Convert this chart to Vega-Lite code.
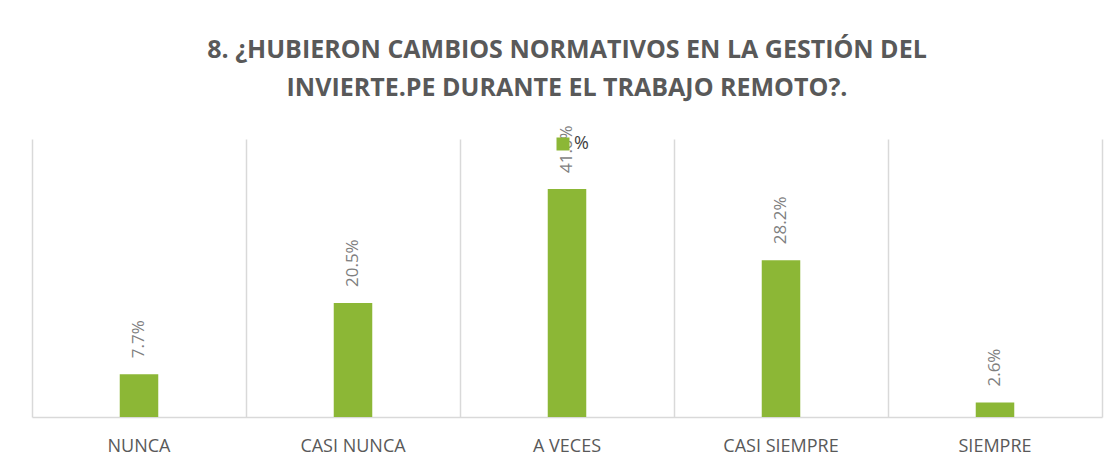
{
  "$schema": "https://vega.github.io/schema/vega-lite/v6.json",
  "autosize": {"type": "none"},
  "width": 1070,
  "height": 278,
  "padding": {"left": 32, "top": 139, "right": 14, "bottom": 38},
  "background": "white",
  "config": {
    "view": {"stroke": null},
    "font": "Open Sans"
  },
  "title": {
    "text": ["8. ¿HUBIERON CAMBIOS NORMATIVOS EN LA GESTIÓN DEL", "INVIERTE.PE DURANTE EL TRABAJO REMOTO?."],
    "font": "Open Sans",
    "fontSize": 25,
    "fontWeight": "bold",
    "color": "#595959",
    "anchor": "middle",
    "offset": 24,
    "lineHeight": 38
  },
  "data": {
    "values": [
      {"cat": "NUNCA", "pct": 0.077},
      {"cat": "CASI NUNCA", "pct": 0.205},
      {"cat": "A VECES", "pct": 0.410},
      {"cat": "CASI SIEMPRE", "pct": 0.282},
      {"cat": "SIEMPRE", "pct": 0.026}
    ]
  },
  "layer": [
    {
      "mark": {"type": "bar", "width": {"band": 0.18}},
      "encoding": {
        "x": {
          "field": "cat",
          "type": "nominal",
          "sort": null,
          "scale": {"paddingInner": 0, "paddingOuter": 0},
          "axis": {
            "orient": "bottom",
            "title": null,
            "labelAngle": 0,
            "labelFont": "Open Sans",
            "labelFontSize": 18,
            "labelColor": "#595959",
            "labelPadding": 20,
            "ticks": false,
            "grid": false,
            "domain": true,
            "domainColor": "#d9d9d9",
            "domainWidth": 1.5
          }
        },
        "y": {
          "field": "pct",
          "type": "quantitative",
          "scale": {"domain": [0, 0.5]},
          "axis": null
        },
        "color": {
          "datum": "%",
          "scale": {"range": ["#8CB736"]},
          "legend": {
            "title": null,
            "orient": "none",
            "legendX": 522,
            "legendY": -4,
            "padding": 0,
            "symbolType": "square",
            "symbolSize": 169,
            "symbolStrokeWidth": 0,
            "labelFont": "Open Sans",
            "labelFontSize": 18,
            "labelColor": "#404040",
            "labelOffset": 2
          }
        }
      }
    },
    {
      "mark": {
        "type": "text",
        "angle": 270,
        "align": "left",
        "baseline": "middle",
        "dx": 16,
        "font": "Open Sans",
        "fontSize": 17,
        "color": "#7f7f7f"
      },
      "encoding": {
        "x": {"field": "cat", "type": "nominal", "sort": null, "axis": null},
        "y": {"field": "pct", "type": "quantitative", "axis": null},
        "text": {"field": "pct", "type": "quantitative", "format": ".1%"}
      }
    },
    {
      "mark": {"type": "rule", "opacity": 0},
      "encoding": {
        "x": {
          "field": "cat",
          "type": "nominal",
          "sort": null,
          "axis": {
            "orient": "top",
            "title": null,
            "labels": false,
            "ticks": false,
            "domain": false,
            "grid": true,
            "gridColor": "#d9d9d9",
            "gridWidth": 1.5,
            "bandPosition": 1,
            "tickExtra": true
          }
        }
      }
    }
  ],
  "resolve": {"axis": {"x": "independent"}}
}
